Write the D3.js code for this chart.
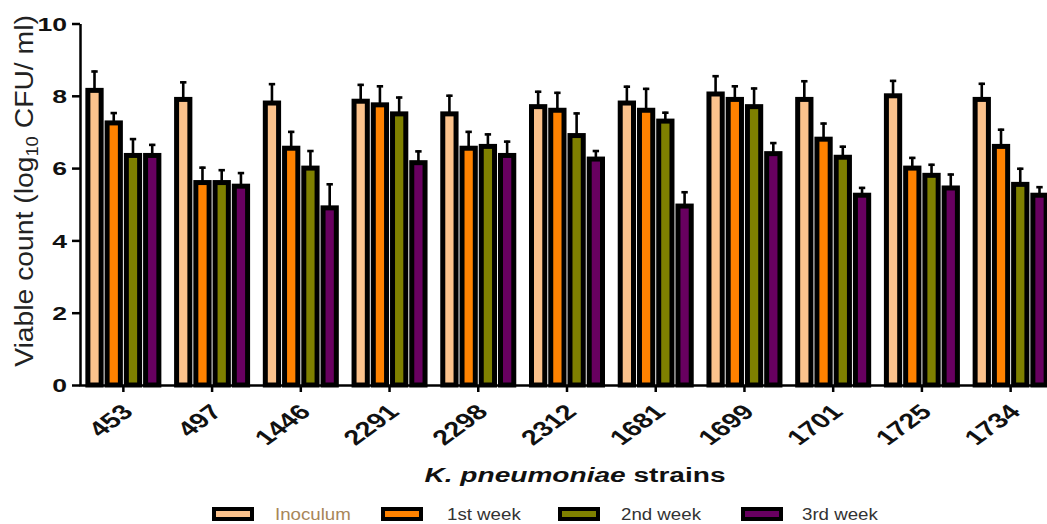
<!DOCTYPE html>
<html>
<head>
<meta charset="utf-8">
<script src="https://cdn.jsdelivr.net/npm/d3@7"></script>
<style>
  html, body { margin: 0; padding: 0; background: #fff; }
  svg { display: block; font-family: "Liberation Sans", Arial, sans-serif; }
</style>
</head>
<body>
<svg id="chart" width="1047" height="524"></svg>
<script>
// ---- data ----
const strains = ["453", "497", "1446", "2291", "2298", "2312", "1681", "1699", "1701", "1725", "1734"];
const seriesNames = ["Inoculum", "1st week", "2nd week", "3rd week"];
const seriesColors = ["#FBC28C", "#FF8200", "#7F8000", "#680060"];
const inoculum = [8.15, 7.9, 7.8, 7.85, 7.5, 7.7, 7.8, 8.05, 7.9, 8.0, 7.9];
const week1    = [7.25, 5.6, 6.55, 7.75, 6.55, 7.6, 7.6, 7.9, 6.8, 6.0, 6.6];
const week2    = [6.35, 5.6, 6.0, 7.5, 6.6, 6.9, 7.3, 7.7, 6.3, 5.8, 5.55];
const week3    = [6.35, 5.5, 4.9, 6.15, 6.35, 6.25, 4.95, 6.4, 5.25, 5.45, 5.25];
const inoculumErr = [0.55, 0.5, 0.55, 0.48, 0.53, 0.44, 0.48, 0.52, 0.53, 0.44, 0.46];
const week1Err    = [0.3, 0.44, 0.48, 0.54, 0.48, 0.51, 0.62, 0.39, 0.46, 0.31, 0.49];
const week2Err    = [0.48, 0.37, 0.5, 0.48, 0.36, 0.64, 0.26, 0.53, 0.32, 0.32, 0.46];
const week3Err    = [0.32, 0.39, 0.68, 0.34, 0.41, 0.25, 0.41, 0.32, 0.23, 0.4, 0.25];
const yTicks = [0, 2, 4, 6, 8, 10];

const seriesValues = [inoculum, week1, week2, week3];
const seriesErrors = [inoculumErr, week1Err, week2Err, week3Err];

// table built from the arrays
const rows = [];
strains.forEach((s, i) => {
  seriesNames.forEach((n, j) => {
    rows.push({ strain: s, series: n, value: seriesValues[j][i], err: seriesErrors[j][i], color: seriesColors[j] });
  });
});

// ---- layout ----
const svg = d3.select("#chart");
const SX = 1.37; // horizontal stretch of the original picture's text

const x0 = d3.scaleBand().domain(strains).range([79, 1055]).paddingInner(0).paddingOuter(0);
const groupW = 76;
const x1 = d3.scaleBand().domain(seriesNames).range([0, groupW]).paddingInner(0.05);
const y = d3.scaleLinear().domain([0, 10]).range([385, 23.5]);

const bw = 5; // bar border width
const barW = x1.bandwidth() - bw;

const barX = d => x0(d.strain) + x0.bandwidth() / 2 - groupW / 2 + x1(d.series);

// error bars (upper only)
const gErr = svg.append("g");
gErr.selectAll("line.v").data(rows).join("line")
  .attr("x1", d => barX(d) + x1.bandwidth() / 2)
  .attr("x2", d => barX(d) + x1.bandwidth() / 2)
  .attr("y1", d => y(d.value))
  .attr("y2", d => y(d.value + d.err))
  .attr("stroke", "#000").attr("stroke-width", 2.6);
gErr.selectAll("line.c").data(rows).join("line")
  .attr("x1", d => barX(d) + x1.bandwidth() / 2 - 3.2)
  .attr("x2", d => barX(d) + x1.bandwidth() / 2 + 3.2)
  .attr("y1", d => y(d.value + d.err) + 1)
  .attr("y2", d => y(d.value + d.err) + 1)
  .attr("stroke", "#000").attr("stroke-width", 2.6);

const gBars = svg.append("g");
gBars.selectAll("rect").data(rows).join("rect")
  .attr("x", d => barX(d) + bw / 2)
  .attr("width", barW)
  .attr("y", d => y(d.value))
  .attr("height", d => y(0) - y(d.value))
  .attr("fill", d => d.color)
  .attr("stroke", "#000")
  .attr("stroke-width", bw);

// ---- axes ----
const yAxis = svg.append("g").attr("transform", "translate(80,0)")
  .call(d3.axisLeft(y).tickValues(yTicks).tickFormat(d3.format("d")).tickSize(8).tickSizeOuter(0));
yAxis.select(".domain").attr("stroke", "#000").attr("stroke-width", 2.5);
yAxis.selectAll(".tick line").attr("stroke", "#000").attr("stroke-width", 2.5);
yAxis.selectAll(".tick text")
  .attr("x", null).attr("dy", null)
  .attr("transform", "translate(-13,0) scale(1.4,1)")
  .attr("dy", "0.36em")
  .attr("font-size", 19).attr("font-weight", "bold").attr("fill", "#111")
  .attr("font-family", "'Liberation Sans', Arial, sans-serif");

const xAxis = svg.append("g").attr("transform", `translate(0,${y(0)})`)
  .call(d3.axisBottom(x0).tickSize(7).tickSizeOuter(0));
xAxis.select(".domain").attr("stroke", "#000").attr("stroke-width", 2.5);
xAxis.selectAll(".tick line").attr("stroke", "#000").attr("stroke-width", 2.5);
xAxis.selectAll(".tick text")
  .attr("y", null).attr("dy", null)
  .attr("text-anchor", "end")
  .attr("transform", `translate(4,23) scale(${SX},1) rotate(-45)`)
  .attr("dy", "0.35em")
  .attr("font-size", 21).attr("font-weight", "bold").attr("fill", "#111")
  .attr("font-family", "'Liberation Sans', Arial, sans-serif");

// ---- axis titles ----
const yTitle = svg.append("text")
  .attr("transform", `translate(33,191) scale(${SX},1) rotate(-90) scale(1.53,1)`)
  .attr("text-anchor", "middle")
  .attr("font-size", 18.5).attr("fill", "#222");
yTitle.append("tspan").text("Viable count (log");
yTitle.append("tspan").attr("font-size", 12).attr("dy", 4).text("10");
yTitle.append("tspan").attr("dy", -4).text(" CFU/ ml)");

const xTitle = svg.append("text")
  .attr("transform", `translate(575,482) scale(${SX},1)`)
  .attr("text-anchor", "middle")
  .attr("font-size", 20.5).attr("font-weight", "bold").attr("fill", "#111");
xTitle.append("tspan").attr("font-style", "italic").text("K. pneumoniae");
xTitle.append("tspan").text(" strains");

// ---- legend ----
const legendX = [212, 381, 558, 741];
const legendTextX = [275, 447, 621, 802];
const legendTextColor = ["#A88658", "#333", "#333", "#333"];
const lg = svg.append("g");
seriesNames.forEach((n, j) => {
  lg.append("rect")
    .attr("x", legendX[j] + 2).attr("y", 509)
    .attr("width", 38).attr("height", 10)
    .attr("fill", seriesColors[j]).attr("stroke", "#000").attr("stroke-width", 4);
  lg.append("text")
    .attr("transform", `translate(${legendTextX[j]},520) scale(1.1,1)`)
    .attr("font-size", 17).attr("fill", legendTextColor[j])
    .text(n);
});
</script>
</body>
</html>
